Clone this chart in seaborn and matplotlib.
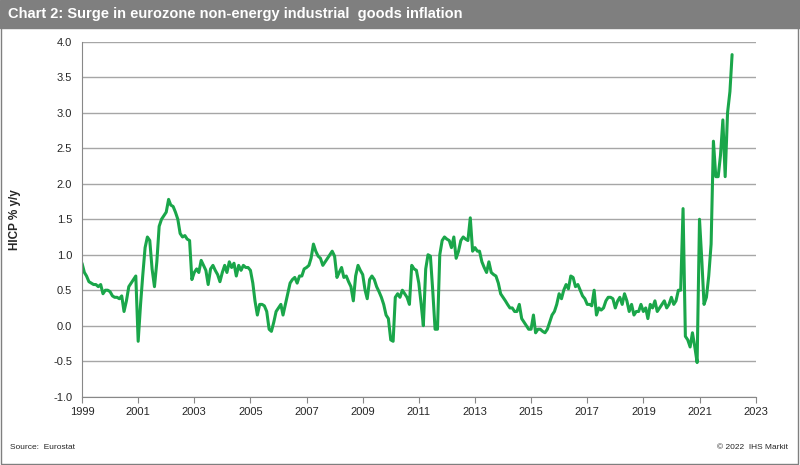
import numpy as np
import pandas as pd
import seaborn as sns
import matplotlib.pyplot as plt

# Monthly HICP non-energy industrial goods, % y/y
values = [
    0.88, 0.75, 0.7, 0.62, 0.6, 0.58, 0.58, 0.55, 0.58, 0.45, 0.5, 0.5,
    0.48, 0.42, 0.4, 0.4, 0.38, 0.42, 0.2, 0.35, 0.55, 0.6, 0.65, 0.7,
    -0.22, 0.3, 0.7, 1.1, 1.25, 1.2, 0.8, 0.55, 0.9, 1.4, 1.5, 1.55,
    1.6, 1.78, 1.7, 1.68, 1.6, 1.5, 1.3, 1.25, 1.27, 1.22, 1.2, 0.65,
    0.75, 0.8, 0.75, 0.92, 0.85, 0.78, 0.58, 0.8, 0.85, 0.78, 0.72, 0.62,
    0.75, 0.85, 0.75, 0.9, 0.82, 0.88, 0.7, 0.85, 0.78, 0.85, 0.82, 0.82,
    0.78, 0.6, 0.35, 0.15, 0.3, 0.3, 0.28, 0.2, -0.05, -0.08, 0.05, 0.2,
    0.25, 0.3, 0.15, 0.3, 0.45, 0.6, 0.65, 0.68, 0.6, 0.7, 0.7, 0.8,
    0.82, 0.85, 0.95, 1.15, 1.05, 0.98, 0.95, 0.85, 0.9, 0.95, 1.0, 1.05,
    0.98, 0.68, 0.75, 0.82, 0.68, 0.7, 0.62, 0.55, 0.35, 0.7, 0.85, 0.78,
    0.72, 0.5, 0.38, 0.65, 0.7, 0.65, 0.55, 0.48, 0.4, 0.3, 0.15, 0.1,
    -0.2, -0.22, 0.4, 0.45, 0.4, 0.5, 0.45, 0.4, 0.3, 0.85, 0.8, 0.78,
    0.6, 0.3, 0.0, 0.8, 1.0, 0.98, 0.5, -0.05, -0.05, 1.0, 1.2, 1.25,
    1.22, 1.2, 1.1, 1.25, 0.95, 1.05, 1.2, 1.25, 1.22, 1.2, 1.52, 1.05,
    1.1, 1.05, 1.05, 0.9, 0.82, 0.75, 0.9, 0.75, 0.72, 0.7, 0.6, 0.45,
    0.4, 0.35, 0.3, 0.25, 0.25, 0.2, 0.2, 0.3, 0.1, 0.05, 0.0, -0.05,
    -0.05, 0.15, -0.1, -0.05, -0.05, -0.08, -0.1, -0.05, 0.05, 0.15, 0.2, 0.3,
    0.45, 0.38, 0.5, 0.58, 0.52, 0.7, 0.68, 0.55, 0.58, 0.5, 0.42, 0.38,
    0.3, 0.3, 0.28, 0.5, 0.15, 0.25, 0.22, 0.25, 0.35, 0.4, 0.4, 0.38,
    0.25, 0.35, 0.4, 0.3, 0.45, 0.35, 0.2, 0.3, 0.15, 0.2, 0.2, 0.3,
    0.2, 0.25, 0.1, 0.3, 0.25, 0.35, 0.2, 0.25, 0.3, 0.35, 0.25, 0.3,
    0.4, 0.3, 0.35, 0.5, 0.5, 1.65, -0.15, -0.2, -0.3, -0.1, -0.3, -0.52,
    1.5, 0.9, 0.3, 0.4, 0.7, 1.15, 2.6, 2.1, 2.1, 2.4, 2.9, 2.1,
    3.0, 3.3, 3.82,
]
dates = pd.date_range('1999-01-01', periods=len(values), freq='MS')
df = pd.DataFrame({'date': dates, 'value': values})

sns.set_style('white')
plt.rcParams['font.family'] = ['Arial', 'Liberation Sans', 'DejaVu Sans']

fig = plt.figure(figsize=(8, 4.65), dpi=100)
# title bar
fig.patches.append(plt.Rectangle((0, 0.94), 1, 0.06, transform=fig.transFigure,
                                 color='#7f7f7f', zorder=0))
fig.text(0.01, 0.97, 'Chart 2: Surge in eurozone non-energy industrial  goods inflation',
         color='white', fontsize=10.5, fontweight='bold', va='center')
fig.patches.append(plt.Rectangle((0.001, 0.002), 0.997, 0.996, transform=fig.transFigure,
                                 fill=False, edgecolor='#7f7f7f', lw=1))

ax = fig.add_axes([0.1025, 0.147, 0.842, 0.763])
sns.lineplot(data=df, x='date', y='value', ax=ax, color='#1aa64a', lw=2.2)

ax.set_ylim(-1.0, 4.0)
ax.set_yticks(np.arange(-1.0, 4.01, 0.5))
ax.set_yticklabels([f'{v:.1f}' for v in np.arange(-1.0, 4.01, 0.5)], fontsize=8)
years = list(range(1999, 2024, 2))
ax.set_xlim(pd.Timestamp('1999-01-01'), pd.Timestamp('2023-01-01'))
ax.set_xticks([pd.Timestamp(f'{y}-01-01') for y in years])
ax.set_xticklabels([str(y) for y in years], fontsize=8)
ax.grid(axis='y', color='#a6a6a6', lw=1)
ax.tick_params(axis='x', direction='out', length=4, color='#888888', bottom=True)
for s in ['top', 'right']:
    ax.spines[s].set_visible(False)
for s in ['left', 'bottom']:
    ax.spines[s].set_color('#888888')
ax.set_xlabel('')
ax.set_ylabel('HICP % y/y', fontsize=8.5, fontweight='bold')
ax.yaxis.set_label_coords(-0.09, 0.5)

fig.text(0.012, 0.035, 'Source:  Eurostat', fontsize=6)
fig.text(0.985, 0.035, '© 2022  IHS Markit', fontsize=6, ha='right')

plt.savefig('out.png', dpi=100)
